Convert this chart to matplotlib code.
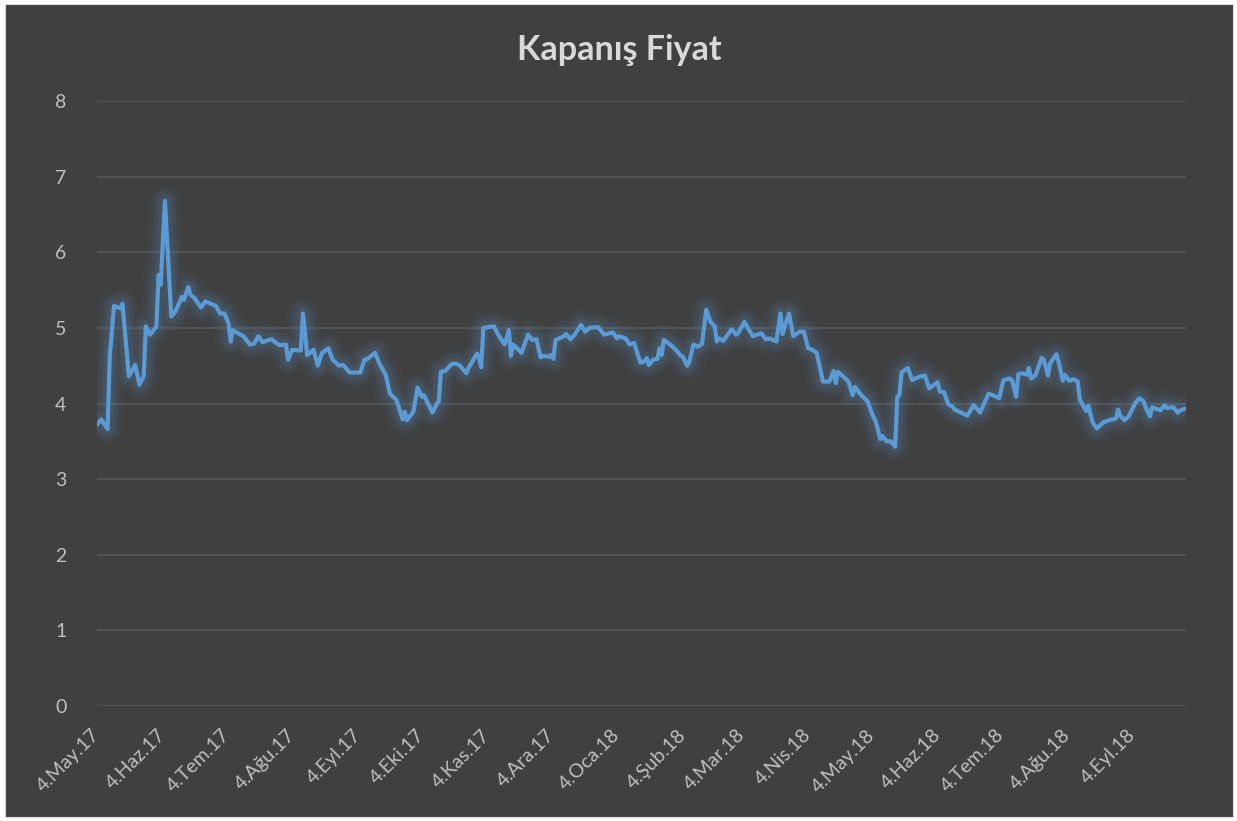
import matplotlib
matplotlib.use("Agg")
import matplotlib.pyplot as plt
import matplotlib.dates as mdates
from matplotlib.patches import Rectangle
from matplotlib.ticker import FuncFormatter
import pandas as pd

# closing prices (days counted from start_date)
start_date = "2017-05-04"
day_offset = [
    0, 2, 5, 6, 8, 11, 12, 15, 18, 20, 22, 23, 25, 28, 29, 30, 32, 35, 37, 40,
    41, 43, 44, 46, 49, 51, 56, 58, 60, 62, 63, 64, 67, 69, 72, 74, 76, 78, 82, 86,
    89, 90, 92, 96, 97, 98, 99, 102, 104, 106, 109, 111, 114, 116, 119, 124, 126, 127, 131, 133,
    136, 138, 141, 144, 145, 146, 149, 151, 153, 154, 158, 160, 161, 162, 164, 167, 169, 171, 174, 175,
    179, 180, 181, 182, 187, 189, 192, 194, 195, 196, 200, 203, 205, 207, 209, 210, 213, 214, 215, 216,
    220, 221, 223, 225, 228, 230, 232, 236, 239, 243, 245, 246, 249, 251, 253, 256, 258, 259, 260, 262,
    264, 265, 266, 267, 270, 273, 275, 276, 278, 279, 281, 283, 285, 287, 289, 291, 292, 293, 295, 299,
    301, 302, 305, 307, 309, 313, 315, 317, 320, 322, 323, 324, 326, 328, 331, 333, 335, 337, 339, 342,
    345, 347, 348, 349, 351, 354, 356, 357, 360, 363, 365, 367, 369, 370, 372, 374, 376, 377, 378, 379,
    382, 384, 387, 390, 392, 396, 397, 399, 401, 403, 404, 407, 410, 413, 416, 420, 422, 425, 427, 430,
    431, 433, 434, 436, 438, 439, 440, 442, 445, 446, 448, 449, 452, 453, 455, 456, 458, 460, 462, 463,
    465, 466, 467, 469, 471, 474, 478, 480, 481, 482, 484, 486, 489, 491, 493, 494, 496, 497, 500, 501,
    503, 504, 507, 508, 509, 511, 513,
]
close_price = [
    3.72, 3.79, 3.66, 4.62, 5.29, 5.26, 5.32, 4.36, 4.51, 4.25, 4.36, 5.02, 4.91, 5.02, 5.70, 5.57, 6.68, 5.15, 5.22, 5.41,
    5.37, 5.54, 5.44, 5.39, 5.27, 5.35, 5.29, 5.19, 5.19, 5.06, 4.82, 4.97, 4.92, 4.89, 4.78, 4.79, 4.89, 4.81, 4.85, 4.77,
    4.78, 4.58, 4.71, 4.70, 5.19, 4.93, 4.64, 4.71, 4.50, 4.67, 4.73, 4.58, 4.50, 4.51, 4.41, 4.41, 4.58, 4.58, 4.67, 4.53,
    4.38, 4.13, 4.05, 3.79, 3.89, 3.78, 3.89, 4.21, 4.09, 4.11, 3.88, 3.99, 4.03, 4.42, 4.43, 4.52, 4.53, 4.50, 4.40, 4.47,
    4.66, 4.60, 4.48, 5.00, 5.02, 4.91, 4.78, 4.97, 4.63, 4.78, 4.67, 4.91, 4.84, 4.85, 4.61, 4.63, 4.62, 4.64, 4.59, 4.84,
    4.89, 4.92, 4.85, 4.91, 5.04, 4.95, 5.00, 5.01, 4.91, 4.94, 4.86, 4.89, 4.86, 4.78, 4.80, 4.54, 4.56, 4.60, 4.51, 4.58,
    4.59, 4.73, 4.64, 4.84, 4.78, 4.70, 4.63, 4.62, 4.50, 4.55, 4.78, 4.75, 4.79, 5.24, 5.08, 5.02, 4.82, 4.86, 4.83, 4.98,
    4.91, 4.93, 5.08, 4.98, 4.89, 4.93, 4.85, 4.86, 4.82, 5.19, 4.92, 5.02, 5.19, 4.89, 4.95, 4.95, 4.73, 4.71, 4.67, 4.29,
    4.29, 4.43, 4.27, 4.42, 4.37, 4.29, 4.11, 4.22, 4.11, 4.03, 3.87, 3.75, 3.53, 3.57, 3.50, 3.50, 3.43, 4.09, 4.11, 4.41,
    4.47, 4.31, 4.35, 4.37, 4.20, 4.28, 4.16, 4.15, 3.99, 3.96, 3.92, 3.88, 3.84, 3.98, 3.88, 4.13, 4.11, 4.07, 4.31, 4.33,
    4.31, 4.09, 4.39, 4.40, 4.38, 4.47, 4.33, 4.37, 4.60, 4.58, 4.37, 4.53, 4.65, 4.55, 4.30, 4.38, 4.30, 4.32, 4.29, 4.05,
    3.95, 3.90, 3.97, 3.75, 3.67, 3.75, 3.79, 3.80, 3.92, 3.84, 3.78, 3.83, 4.00, 4.07, 4.03, 3.95, 3.83, 3.95, 3.92, 3.91,
    3.98, 3.94, 3.95, 3.92, 3.88, 3.92, 3.93,
]
tr_months = ["Oca", "Şub", "Mar", "Nis", "May", "Haz", "Tem", "Ağu", "Eyl", "Eki", "Kas", "Ara"]
y_ticks = [0, 1, 2, 3, 4, 5, 6, 7, 8]
title = "Kapanış Fiyat"

plt.rcParams["font.family"] = ["Lato", "DejaVu Sans"]

dates = pd.Timestamp(start_date) + pd.to_timedelta(day_offset, unit="D")

W, H = 1237, 821
fig = plt.figure(figsize=(W / 100, H / 100), dpi=100, facecolor="white")
fig.patches.append(Rectangle((5 / W, 4 / H), 1228 / W, 813 / H, transform=fig.transFigure,
                             facecolor="#404040", edgecolor="#D9D9D9", lw=0.8, zorder=-10))

ax = fig.add_axes([97 / W, 1 - 706 / H, (1186 - 97) / W, (706 - 101) / H])
ax.set_facecolor("none")

line_color = "#5B9BD5"
# soft glow under the line
for lw, a in [(22, 0.05), (15, 0.08), (9, 0.12)]:
    ax.plot(dates, close_price, color=line_color, lw=lw, alpha=a,
            solid_joinstyle="round", solid_capstyle="round")
ax.plot(dates, close_price, color=line_color, lw=3,
        solid_joinstyle="round", solid_capstyle="round")

ax.set_xlim(dates[0], dates[-1])
ax.set_ylim(0, 8)
ax.set_yticks(y_ticks)
ax.grid(axis="y", color="#5A5A5A", lw=1.1)
ax.set_axisbelow(True)

ax.xaxis.set_major_locator(mdates.MonthLocator(bymonthday=4))
ax.xaxis.set_major_formatter(FuncFormatter(
    lambda v, pos: "{}.{}.{}".format(mdates.num2date(v).day,
                                     tr_months[mdates.num2date(v).month - 1],
                                     mdates.num2date(v).strftime("%y"))))

for s in ax.spines.values():
    s.set_visible(False)
ax.tick_params(axis="both", length=0, colors="#BFBFBF", labelsize=14)
ax.tick_params(axis="y", pad=22)
ax.tick_params(axis="x", pad=19)
plt.setp(ax.get_xticklabels(), rotation=45, ha="right", va="center",
         rotation_mode="anchor")

fig.text(619 / W, 1 - 50 / H, title, ha="center", va="center",
         fontsize=24.5, fontweight="bold", color="#D9D9D9")

fig.savefig("out.png", dpi=100, facecolor=fig.get_facecolor())
plt.close()
